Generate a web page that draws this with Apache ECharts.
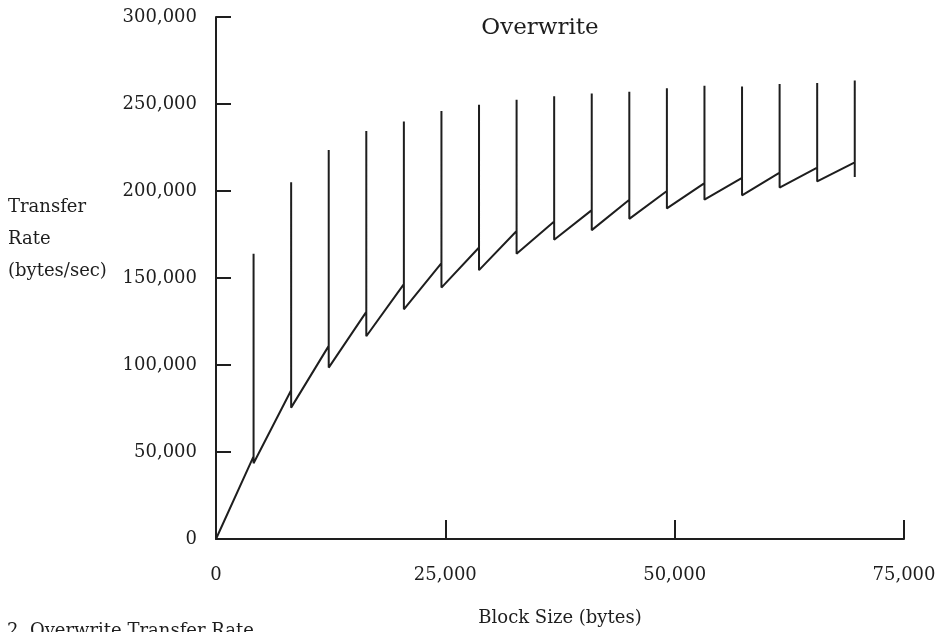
<!DOCTYPE html>
<html>
<head>
<meta charset="utf-8">
<script src="https://cdn.jsdelivr.net/npm/echarts@6/dist/echarts.min.js"></script>
<style>html,body{margin:0;padding:0;background:#fff;}#c{width:941px;height:632px;}</style>
</head>
<body>
<div id="c"></div>
<script>
// Block sizes (bytes) where the rate drops / spikes
const blockSizes = [4096, 8192, 12288, 16384, 20480, 24576, 28672, 32768, 36864, 40960, 45056, 49152, 53248, 57344, 61440, 65536, 69632];
// Transfer rate (bytes/sec) reached just before each block boundary
const rateBefore = [47500, 85500, 111000, 130500, 146500, 158500, 167500, 177000, 182500, 189000, 195000, 200000, 204500, 207500, 210500, 213500, 216500];
// Peak of the spike at each boundary
const ratePeak = [164000, 205000, 223500, 234500, 240000, 246000, 249500, 252500, 254500, 256000, 257000, 259000, 260500, 260000, 261500, 262000, 263500];
// Rate just after each boundary
const rateAfter = [43500, 75500, 98500, 116500, 132000, 144500, 154500, 164000, 172000, 177500, 184000, 190000, 195000, 197500, 202000, 205500, 208000];

const yTicks = [0, 50000, 100000, 150000, 200000, 250000, 300000];
const xTicks = [0, 25000, 50000, 75000];

const pts = [[0, 0]];
for (let i = 0; i < blockSizes.length; i++) {
  pts.push([blockSizes[i], rateBefore[i]]);
  pts.push([blockSizes[i], ratePeak[i]]);
  pts.push([blockSizes[i], rateAfter[i]]);
}

const serif = '"DejaVu Serif", "Liberation Serif", serif';
const ink = '#1e1e1e';
const fmt = v => String(v).replace(/\B(?=(\d{3})+(?!\d))/g, ',');

const chart = echarts.init(document.getElementById('c'), null, {renderer: 'canvas'});
chart.setOption({
  backgroundColor: '#ffffff',
  animation: false,
  grid: {left: 216, right: 37, top: 17, bottom: 93, containLabel: false, outerBoundsMode: 'none'},
  xAxis: {
    type: 'value', min: xTicks[0], max: xTicks[xTicks.length - 1], interval: 25000,
    axisLine: {show: true, lineStyle: {color: ink, width: 2}},
    axisTick: {show: true, inside: true, length: 19, lineStyle: {color: ink, width: 2}},
    axisLabel: {margin: 27, fontFamily: serif, fontSize: 18, color: ink, formatter: fmt},
    splitLine: {show: false}
  },
  yAxis: {
    type: 'value', min: yTicks[0], max: yTicks[yTicks.length - 1], interval: 50000,
    axisLine: {show: true, lineStyle: {color: ink, width: 2}},
    axisTick: {show: true, inside: true, length: 15, lineStyle: {color: ink, width: 2}},
    axisLabel: {margin: 19, fontFamily: serif, fontSize: 18, color: ink, formatter: fmt},
    splitLine: {show: false}
  },
  graphic: [
    {type: 'text', x: 540, y: 28,
     style: {text: 'Overwrite', fontFamily: serif, fontSize: 23, fill: ink, align: 'center', verticalAlign: 'middle'}},
    {type: 'text', x: 560, y: 618,
     style: {text: 'Block Size (bytes)', fontFamily: serif, fontSize: 18, fill: ink, align: 'center', verticalAlign: 'middle'}},
    {type: 'text', left: 8, top: 191,
     style: {text: 'Transfer\nRate\n(bytes/sec)', fontFamily: serif, fontSize: 18, lineHeight: 32, fill: ink}},
    {type: 'text', x: 7, y: 622,
     style: {text: '2. Overwrite Transfer Rate', fontFamily: serif, fontSize: 18, fill: ink, align: 'left', verticalAlign: 'top'}}
  ],
  series: [{
    type: 'line', data: pts, showSymbol: false, symbol: 'none',
    lineStyle: {color: ink, width: 2}, clip: false
  }]
});
</script>
</body>
</html>
